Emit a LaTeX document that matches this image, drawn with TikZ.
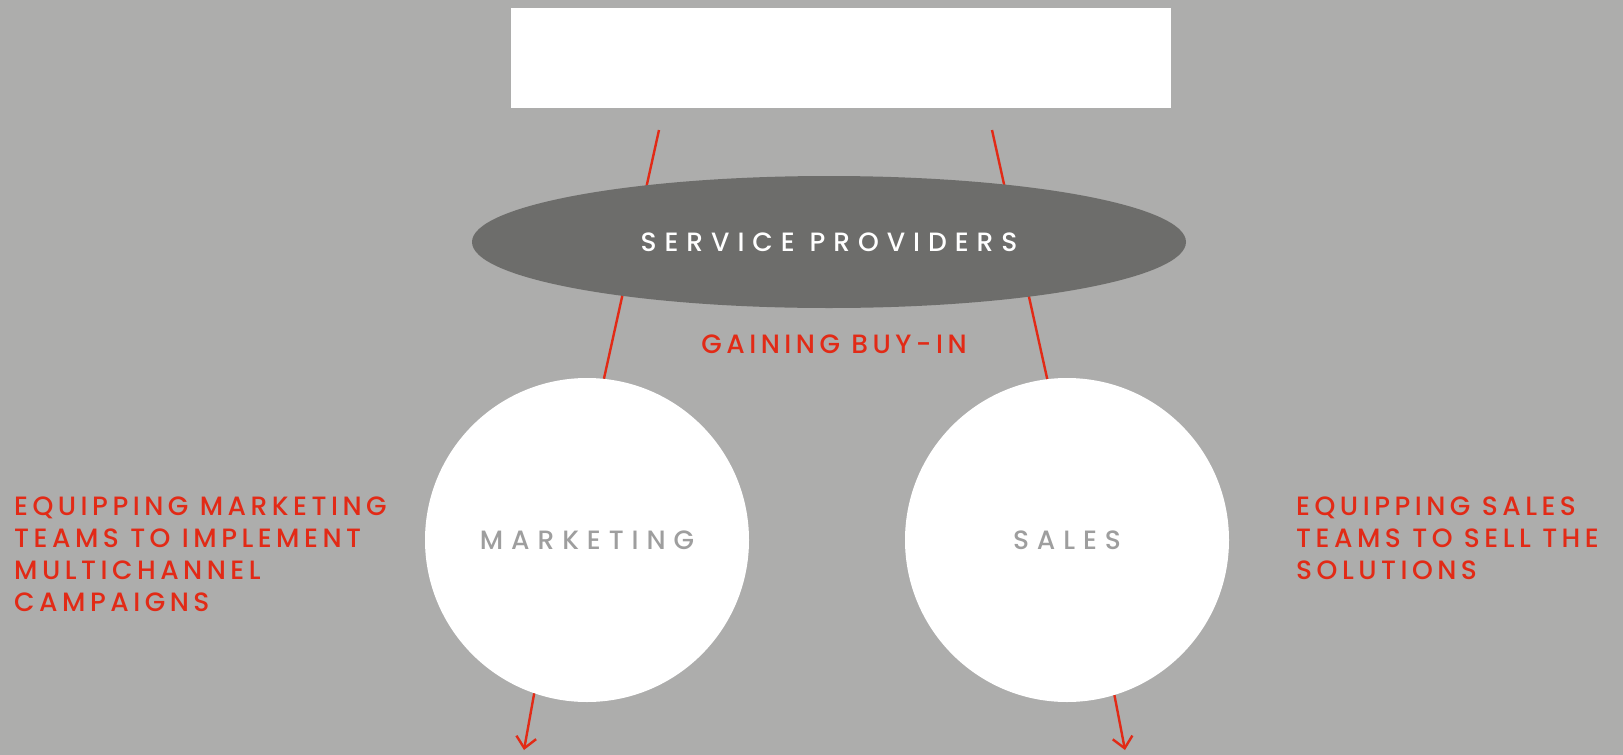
\documentclass[tikz,border=0pt]{standalone}
\usepackage{fontspec}
\usepackage{tikz}
\usetikzlibrary{shapes.geometric, arrows.meta}

\newfontfamily\labelfont{Poppins Medium}[LetterSpace=17]
\newfontfamily\widefont{Poppins Medium}[LetterSpace=30]
\definecolor{bggray}{RGB}{173,173,172}
\definecolor{ovalgray}{RGB}{109,109,107}
\definecolor{linkred}{RGB}{226,42,22}
\definecolor{softgray}{RGB}{158,158,158}

\tikzset{
every picture/.style={x=1pt, y=-1pt},
label text/.style={font=\labelfont\fontsize{26.5}{32}\selectfont},
wide text/.style={font=\widefont\fontsize{26.5}{32}\selectfont},
team/.style={circle, fill=white, minimum size=324pt, inner sep=0pt, wide text, text=softgray},
link/.style={draw=linkred, line width=2.4pt},
note/.style={label text, text=linkred, align=left, inner sep=0pt}
}

\begin{document}
\begin{tikzpicture}
      \useasboundingbox[fill=bggray] (0,0) rectangle (1623,755);
      \node[fill=white, minimum width=660pt, minimum height=100pt, inner sep=0pt] (top) at (841,58) {};
      % links run behind the oval
      \coordinate (tl) at (659,130);
      \coordinate (tr) at (992,130);
      \node[team] (mkt) at (587,540) {MARKETING};
      \node[team] (sales) at (1067,540) {SALES};
      \draw[link] (tl) -- (mkt.84);
      \draw[link] (tr) -- (sales.97);
      \node[ellipse, fill=ovalgray, minimum width=714pt, minimum height=132pt, inner sep=0pt,
            wide text, text=white] (sp) at (829,242) {SERVICE PROVIDERS};
      \node[label text, text=linkred] (buyin) at (834,344) {GAINING BUY-IN};
      \node[note, anchor=west] (mktnote) at (14,554) {EQUIPPING MARKETING\\TEAMS TO IMPLEMENT\\MULTICHANNEL\\CAMPAIGNS};
      \node[note, anchor=west] (salesnote) at (1296,538) {EQUIPPING SALES\\TEAMS TO SELL THE\\SOLUTIONS};
      \coordinate (bl) at (524,750);
      \coordinate (br) at (1125,750);
      \draw[link, -{Straight Barb[length=11pt, width=20pt]}] (mkt.251) -- (bl);
      \draw[link, -{Straight Barb[length=11pt, width=20pt]}] (sales.-73) -- (br);
    \end{tikzpicture}
\end{document}
